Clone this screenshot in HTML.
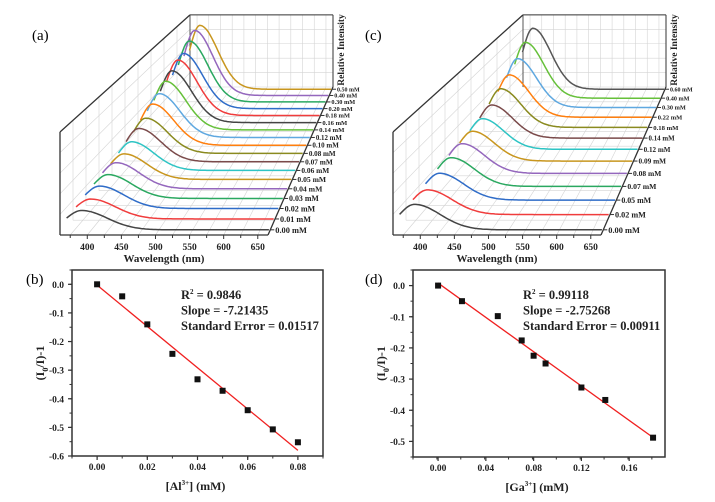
<!DOCTYPE html>
<html><head><meta charset="utf-8"><style>
html,body{margin:0;padding:0;background:#fff;}
svg{display:block;font-family:"Liberation Serif","DejaVu Serif",serif;}
</style></head><body>
<svg id="fig" width="715" height="502" viewBox="0 0 715 502" xmlns="http://www.w3.org/2000/svg">
<g id="pa"></g>
<g id="pc"></g>
<g id="pb"></g>
<g id="pd"></g>
<text x="32" y="40" font-size="15">(a)</text>
<text x="365" y="40" font-size="15">(c)</text>
<text x="26" y="284" font-size="15">(b)</text>
<text x="365" y="284" font-size="15">(d)</text>
</svg>
<script>
// ---- data: panel (a) ----
const concA = ["0.00","0.01","0.02","0.03","0.04","0.05","0.06","0.07","0.08","0.10","0.12","0.14","0.16","0.18","0.20","0.30","0.40","0.50"];
const peakA = [0.19,0.20,0.23,0.25,0.28,0.28,0.32,0.38,0.41,0.49,0.53,0.60,0.65,0.71,0.72,0.81,0.88,0.88];
const colorsA = ["#444","#f03c3c","#2f6cc8","#2aa860","#9467bd","#c8961e","#2ec4c4","#7a4a4a","#8a8a1f","#ff7f0e","#5fa8e0","#66c03a","#444","#f03c3c","#2f6cc8","#2aa860","#9467bd","#c8961e"];
// ---- data: panel (c) ----
const concC = ["0.00","0.02","0.05","0.07","0.08","0.09","0.12","0.14","0.18","0.22","0.30","0.40","0.60"];
const peakC = [0.25,0.25,0.28,0.31,0.33,0.34,0.36,0.40,0.48,0.54,0.64,0.75,0.84];
const colorsC = ["#444","#f03c3c","#2f6cc8","#2aa860","#9467bd","#c8961e","#2ec4c4","#7a4a4a","#8a8a1f","#ff7f0e","#5fa8e0","#66c03a","#555"];
const wlTicks = [400,450,500,550,600,650];
// ---- data: panel (b) ----
const xB = [0,0.01,0.02,0.03,0.04,0.05,0.06,0.07,0.08];
const yB = [0,-0.042,-0.14,-0.243,-0.332,-0.372,-0.44,-0.507,-0.552];
const fitB = [-0.003,-7.21435];
const xTicksB = ["0.00","0.02","0.04","0.06","0.08"];
const yTicksB = ["0.0","-0.1","-0.2","-0.3","-0.4","-0.5","-0.6"];
// ---- data: panel (d) ----
const xD = [0,0.02,0.05,0.07,0.08,0.09,0.12,0.14,0.18];
const yD = [0,-0.05,-0.098,-0.176,-0.225,-0.25,-0.327,-0.367,-0.488];
const fitD = [0.008,-2.75268];
const xTicksD = ["0.00","0.04","0.08","0.12","0.16"];
const yTicksD = ["0.0","-0.1","-0.2","-0.3","-0.4","-0.5"];

const NS="http://www.w3.org/2000/svg";
function mk(tag,attrs,parent){const e=document.createElementNS(NS,tag);for(const k in attrs)e.setAttribute(k,attrs[k]);parent.appendChild(e);return e;}

function draw3D(gid, x0, conc, peaks, colors){
  const g=document.getElementById(gid);
  const W0=360,W1=665;
  const L=d=>x0+130*d, R=d=>x0+208+65*d;
  const base=d=>235-148*d, sc=d=>103*(1-0.3*d);
  const P=(w,I,d)=>[L(d)+(w-W0)/(W1-W0)*(R(d)-L(d)), base(d)-I*sc(d)];
  const depth=i=>{const t=i/(conc.length-1);const f=t*1.34/(1+0.34*t);return 0.035+0.95*f;};
  const grid="#d4d4d4";
  const ln=(a,b,st,w,nm)=>{const e=mk('line',{x1:a[0],y1:a[1],x2:b[0],y2:b[1],stroke:st,'stroke-width':w},g);return e;};
  for(let w=375;w<=650;w+=25){ln(P(w,0,0),P(w,0,1),grid,0.6,'floor-grid-line');ln(P(w,0,1),P(w,1,1),grid,0.6,'back-wall-grid-line');}
  for(let I=0.2;I<1;I+=0.2){ln(P(W0,I,0),P(W0,I,1),grid,0.6,'left-wall-grid-line');ln(P(W0,I,1),P(W1,I,1),grid,0.6,'back-wall-grid-line');}
  for(let d=0.1;d<1;d+=0.1){ln(P(W0,0,d),P(W0,1,d),grid,0.6,'left-wall-grid-line');ln(P(W0,0,d),P(W1,0,d),grid,0.6,'floor-grid-line');}
  const fr="#333";
  ln(P(W0,1,0),P(W0,1,1),fr,1.3,'frame-edge');ln(P(W0,0,0),P(W0,1,0),fr,1.3,'frame-edge');
  ln(P(W0,1,1),P(W1,1,1),fr,1,'frame-edge');ln(P(W1,1,1),P(W1,0,1),fr,1,'frame-edge');ln(P(W0,0,1),P(W0,1,1),fr,0.8,'frame-edge');
  ln(P(W0,0,0),P(W1,0,0),fr,1.3,'x-axis-line');ln(P(W1,0,0),P(W1,0,1),fr,1.3,'depth-axis-line');
  for(let w=375;w<=650;w+=25){const p=P(w,0,0);ln(p,[p[0],p[1]+(w%50==0?4:3)],fr,1,'x-tick');}
  wlTicks.forEach(w=>{const p=P(w,0,0);const t=mk('text',{x:p[0],y:p[1]+15,'font-size':9.5,'font-weight':'bold','text-anchor':'middle',fill:'#222'},g);t.textContent=w;
    });
  const xt=mk('text',{x:L(0)+104,y:262,'font-size':11,'font-weight':'bold','text-anchor':'middle',fill:'#222'},g);xt.textContent='Wavelength (nm)';
  
  const bt=P(W1,0,1);const yt=mk('text',{x:0,y:0,'font-size':9.5,'font-weight':'bold','text-anchor':'middle',fill:'#222',transform:`translate(${bt[0]+11},${bt[1]-37}) rotate(-90)`},g);yt.textContent='Relative  Intensity';
  
  for(let i=conc.length-1;i>=0;i--){
    const d=depth(i);let pts=[];
    for(let w=363;w<=W1;w+=3){const s=w<385?22:38;const I=peaks[i]*Math.exp(-Math.pow((w-385)/s,2)/2);pts.push(P(w,I,d).map(v=>v.toFixed(1)).join(','));}
    const pl=mk('polyline',{points:pts.join(' '),fill:'none',stroke:colors[i],'stroke-width':1.5},g);
    
    
    const e=P(W1,0,d);ln(e,[e[0]+4,e[1]],fr,1,'depth-tick');
    const fs=8.5-2.5*d;
    const lb=mk('text',{x:e[0]+5,y:e[1]+fs*0.35,'font-size':fs.toFixed(1),'font-weight':'bold',fill:'#222'},g);lb.textContent=conc[i]+' mM';
    
    
  }
}
draw3D('pa',60,concA,peakA,colorsA);
draw3D('pc',393,concC,peakC,colorsC);

function draw2D(gid,box,xr,yr,xs,ys,fit,xt,yt,xMinor,yMinor,ion,annX,stats){
  const g=document.getElementById(gid);
  const [bl,bt,br,bb]=box;
  const X=v=>bl+(v-xr[0])/(xr[1]-xr[0])*(br-bl), Y=v=>bt+(yr[1]-v)/(yr[1]-yr[0])*(bb-bt);
  const r=mk('rect',{x:bl,y:bt,width:br-bl,height:bb-bt,fill:'none',stroke:'#333','stroke-width':1.5},g);
  
  xt.forEach(s=>{const v=parseFloat(s);const t=mk('line',{x1:X(v),y1:bb,x2:X(v),y2:bb+4,stroke:'#333','stroke-width':1.2},g);
    const l=mk('text',{x:X(v),y:bb+14,'font-size':9.5,'font-weight':'bold','text-anchor':'middle',fill:'#222'},g);l.textContent=s;});
  for(let v=xr[0];v<=xr[1]+1e-9;v+=xMinor){const t=mk('line',{x1:X(v),y1:bb,x2:X(v),y2:bb+2.5,stroke:'#333','stroke-width':1},g);}
  yt.forEach(s=>{const v=parseFloat(s);const t=mk('line',{x1:bl-4,y1:Y(v),x2:bl,y2:Y(v),stroke:'#333','stroke-width':1.2},g);
    const l=mk('text',{x:bl-8,y:Y(v)+3.5,'font-size':9.5,'font-weight':'bold','text-anchor':'end',fill:'#222'},g);l.textContent=s;});
  for(let v=yr[0];v<=yr[1]+1e-9;v+=yMinor){const t=mk('line',{x1:bl-2.5,y1:Y(v),x2:bl,y2:Y(v),stroke:'#333','stroke-width':1},g);}
  const xmax=xs[xs.length-1];
  const fl=mk('line',{x1:X(0),y1:Y(fit[0]),x2:X(xmax),y2:Y(fit[0]+fit[1]*xmax),stroke:'#f02020','stroke-width':1.3},g);
  
  xs.forEach((x,i)=>{const p=mk('rect',{x:X(x)-3,y:Y(ys[i])-3,width:6,height:6,fill:'#111'},g);
    
    });
  stats.forEach((s,i)=>{const t=mk('text',{x:annX,y:bt+29+i*15.5,'font-size':12.5,'font-weight':'bold',fill:'#222'},g);t.innerHTML=s;});
  const xa=mk('text',{x:(bl+br)/2-2,y:bb+34,'font-size':12,'font-weight':'bold','text-anchor':'middle',fill:'#222'},g);
  xa.innerHTML='['+ion+'<tspan dy="-5" font-size="7">3+</tspan><tspan dy="5">] (mM)</tspan>';
  
  const ya=mk('text',{x:0,y:0,'font-size':12,'font-weight':'bold','text-anchor':'middle',fill:'#222',transform:`translate(${bl-28},${(bt+bb)/2}) rotate(-90)`},g);
  ya.innerHTML='(I<tspan dy="4" font-size="8">0</tspan><tspan dy="-4">/I)-1</tspan>';
  
}
draw2D('pb',[72,270,323,456],[-0.01,0.09],[-0.6,0.05],xB,yB,fitB,xTicksB,yTicksB,0.01,0.05,'Al',181,
  ['R<tspan dy="-5" font-size="7">2</tspan><tspan dy="5"> = 0.9846</tspan>','Slope = -7.21435','Standard Error = 0.01517']);
draw2D('pd',[413,270,665,457],[-0.021,0.19],[-0.55,0.05],xD,yD,fitD,xTicksD,yTicksD,0.02,0.05,'Ga',523,
  ['R<tspan dy="-5" font-size="7">2</tspan><tspan dy="5"> = 0.99118</tspan>','Slope = -2.75268','Standard Error = 0.00911']);
</script>
</body></html>
